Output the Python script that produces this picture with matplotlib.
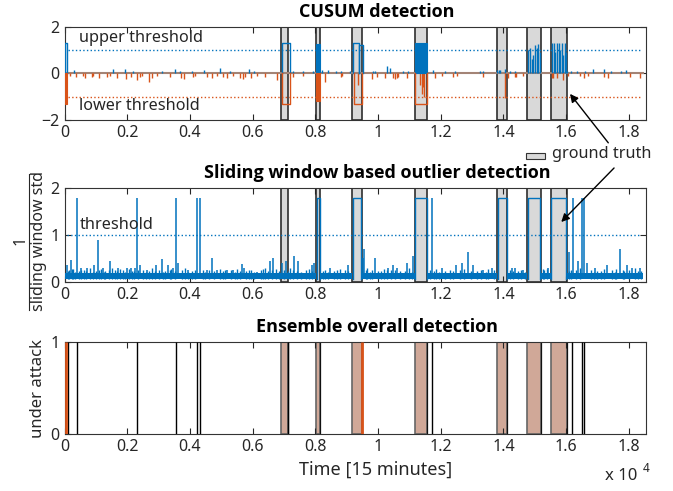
import matplotlib
matplotlib.use("Agg")
import matplotlib.pyplot as plt
from matplotlib.patches import Rectangle, FancyArrowPatch
from matplotlib.lines import Line2D
from matplotlib import font_manager

plt.rcParams['font.family'] = ['Noto Sans', 'DejaVu Sans']

# ---------------- data ----------------
x_max = 18540
x_ticks = [0, 2000, 4000, 6000, 8000, 10000, 12000, 14000, 16000, 18000]
x_ticklabels = ['0', '0.2', '0.4', '0.6', '0.8', '1', '1.2', '1.4', '1.6', '1.8']

# ground-truth attack windows (time index)
gt_start = [6890, 8010, 9180, 11170, 13800, 14760, 15510]
gt_end = [7140, 8150, 9480, 11570, 14120, 15190, 16020]

# CUSUM upper: plateau outlines (start, end, level)
up_plat_start = [0, 6930, 9210, 9400]
up_plat_end = [80, 7190, 9400, 9530]
up_plat_level = [1.3, 1.3, 1.3, 1.2]
# CUSUM upper: dense filled blocks
up_block_start = [8020, 11180]
up_block_end = [8140, 11570]
up_block_level = [1.25, 1.3]
# CUSUM upper: spikes
up_spk_x = [307, 1552, 1935, 2190, 3096, 3521, 3680, 4053, 4456, 4957, 5276, 5883, 6052,
            7298, 7617, 7936, 8205, 8414, 8660, 8810, 9107, 9831, 9905, 10278, 10383, 10808,
            10967, 11746, 12138, 12458, 13256, 13360, 13789, 13850, 13895, 14053, 14213, 14373,
            14798, 14851, 14905, 14958, 15011, 15064, 15117, 15160,
            15540, 15600, 15640, 15700, 15760, 15800, 15860, 15910, 15960, 16000,
            16043, 16150, 16341, 16607, 16873, 17214, 17427, 17746, 17906]
up_spk_h = [0.15, 0.2, 0.2, 0.1, 0.1, 0.2, 0.1, 0.1, 0.15, 0.25, 0.1, 0.2, 0.1,
            0.08, 0.1, 0.1, 0.15, 0.15, 0.1, 0.1, 0.1, 0.1, 0.1, 0.3, 0.25, 0.1,
            0.1, 0.15, 0.1, 0.1, 0.1, 0.08, 0.15, 0.15, 0.15, 0.2, 0.1, 0.1,
            1.0, 1.1, 0.6, 0.8, 1.2, 1.1, 1.25, 0.9,
            1.3, 1.3, 0.9, 1.3, 1.3, 1.0, 1.3, 0.8, 1.3, 0.9,
            0.1, 0.1, 0.1, 0.08, 0.2, 0.2, 0.1, 0.08, 0.15]

# CUSUM lower: plateau outlines
lo_plat_start = [6930, 9240, 11190]
lo_plat_end = [7190, 9480, 11560]
lo_plat_level = [-1.3, -1.3, -1.3]
lo_block_start = [0, 8020]
lo_block_end = [80, 8140]
lo_block_level = [-1.33, -1.2]
lo_spk_x = [169, 361, 595, 648, 882, 914, 1106, 1340, 1446, 1659, 1957, 2106, 2298, 2404, 2457,
            2702, 2776, 2936, 3361, 3702, 3808, 4085, 4159, 4532, 4691, 4851, 5064, 5191, 5383,
            5596, 5702, 5755, 5936, 6128, 6394, 6766, 7298, 7617, 8310, 8810, 8850, 9350,
            9799, 9958, 10224, 10490, 10540, 10596, 10648, 10916, 11330, 11400, 11440, 11480,
            11819, 12033, 12404, 12510, 13361, 14053, 14160, 14373, 14405, 14618, 15544, 15576,
            15722, 15913, 16074, 16447, 16575, 16713, 17214, 17351, 18044, 18363]
lo_spk_h = [-0.1, -0.15, -0.1, -0.2, -0.15, -0.1, -0.2, -0.15, -0.1, -0.2, -0.25, -0.15, -0.3, -0.15, -0.1,
            -0.36, -0.2, -0.1, -0.15, -0.2, -0.25, -0.15, -0.1, -0.15, -0.2, -0.1, -0.15, -0.2, -0.1,
            -0.2, -0.25, -0.15, -0.2, -0.1, -0.15, -0.3, -0.15, -0.1, -0.35, -0.15, -0.1, -0.5,
            -0.25, -0.15, -0.2, -0.2, -0.25, -0.2, -0.15, -0.2, -0.5, -0.9, -0.6, -1.0,
            -0.2, -0.1, -0.15, -0.1, -0.15, -1.05, -0.2, -0.15, -0.15, -0.1, -0.2, -0.2,
            -0.2, -0.3, -0.1, -0.1, -0.2, -0.1, -0.15, -0.2, -0.15, -0.2]

# sliding-window series
sw_seg_start = [0, 8150, 9480, 11570, 14120, 15190, 16020]
sw_seg_end = [8010, 9180, 11170, 13800, 14760, 15510, 18450]
sw_band_lo = 0.06
sw_band_hi = 0.18
sw_plat_start = [8040, 9200, 11190, 13820, 14780, 15530]
sw_plat_end = [8140, 9460, 11560, 14110, 15180, 16010]
sw_plat_level = 1.8
sw_spk_x = [64, 200, 383, 511, 702, 945, 1064, 1213, 1446, 1711, 1979, 2107, 2254, 2308, 2403,
            2617, 2914, 3096, 3307, 3467, 3552, 3627, 3946, 4233, 4310, 4532, 4692, 4851, 5171,
            5383, 5649, 5734, 6128, 6553, 6638, 6926, 7064, 7319, 7458, 7884, 7957, 8468, 9052,
            9511, 9563, 9904, 10329, 10468, 10615, 10934, 11107, 11714, 12033, 12490, 12671,
            12873, 13042, 13361, 13629, 14268, 14373, 14638, 15436, 16106, 16212, 16393, 16501,
            16585, 16660, 16926, 17300, 17724, 17937, 18096, 18363]
sw_spk_h = [0.36, 0.46, 1.8, 0.3, 0.3, 0.35, 0.9, 0.3, 0.44, 0.3, 0.3, 0.3, 0.3, 1.8, 0.35,
            0.25, 0.35, 0.49, 0.35, 0.3, 1.8, 0.41, 0.25, 1.8, 1.8, 0.25, 0.51, 0.25, 0.25,
            0.25, 0.37, 0.3, 0.2, 0.45, 0.5, 0.4, 0.45, 0.54, 0.45, 0.35, 0.4, 0.3, 0.35,
            0.5, 0.71, 0.51, 0.3, 0.35, 0.3, 0.4, 0.55, 1.8, 0.3, 0.35, 0.4,
            0.64, 0.35, 0.25, 0.3, 0.3, 0.3, 0.25, 0.3, 0.64, 1.8, 0.45, 1.8,
            1.8, 0.4, 0.3, 0.35, 0.71, 0.35, 0.3, 0.3]
sw_small_x = [100, 150, 230, 280, 340, 450, 520, 600, 680, 820, 900, 1000, 1100, 1150, 1250, 1300,
              1400, 1520, 1600, 1680, 1780, 1850, 1930, 2050, 2150, 2200, 2350, 2500, 2600, 2700,
              2800, 2870, 3000, 3150, 3200, 3350, 3400, 3520, 3750, 3850, 3920, 4050, 4150, 4400,
              4480, 4600, 4750, 4950, 5050, 5130, 5300, 5450, 5500, 5600, 5800, 5880, 5950, 6050,
              6250, 6320, 6400, 6480, 6600, 6750, 6850, 7000, 7120, 7200, 7300, 7400, 7550, 7700,
              7800, 7900, 8250, 8300, 8400, 8600, 8700, 8800, 8950, 9050, 9600, 9650, 9750, 9800,
              10000, 10100, 10200, 10300, 10400, 10550, 10700, 10850, 11000, 11080, 11650, 11800,
              11850, 11950, 12150, 12300, 12400, 12600, 12750, 12950, 13150, 13300, 13450, 13500,
              13700, 14200, 14300, 14450, 14550, 14700, 15250, 15300, 15400, 16080, 16150, 16300,
              16450, 16800, 16900, 17000, 17100, 17200, 17450, 17550, 17600, 17800, 17850, 18000,
              18200, 18300, 18400]
sw_small_h = [0.22, 0.24, 0.27, 0.28, 0.21, 0.22, 0.25, 0.26, 0.23, 0.3, 0.21, 0.23, 0.25, 0.27,
              0.21, 0.22, 0.26, 0.29, 0.25, 0.22, 0.27, 0.24, 0.21, 0.28, 0.22, 0.23, 0.25, 0.26,
              0.21, 0.22, 0.3, 0.23, 0.25, 0.21, 0.23, 0.26, 0.27, 0.22, 0.24, 0.29, 0.21, 0.22,
              0.25, 0.26, 0.21, 0.24, 0.23, 0.28, 0.22, 0.25, 0.25, 0.21, 0.27, 0.22, 0.23, 0.25,
              0.26, 0.21, 0.24, 0.27, 0.29, 0.23, 0.25, 0.27, 0.23, 0.25, 0.22, 0.3, 0.24, 0.22,
              0.21, 0.26, 0.28, 0.23, 0.22, 0.24, 0.21, 0.23, 0.26, 0.27, 0.25, 0.22, 0.24, 0.3,
              0.21, 0.26, 0.23, 0.22, 0.28, 0.25, 0.24, 0.26, 0.22, 0.23, 0.29, 0.21, 0.25, 0.23,
              0.27, 0.21, 0.22, 0.26, 0.23, 0.24, 0.28, 0.22, 0.23, 0.25, 0.21, 0.27, 0.24, 0.26,
              0.22, 0.22, 0.24, 0.21, 0.28, 0.25, 0.27, 0.22, 0.25, 0.24, 0.29, 0.26, 0.21, 0.23,
              0.22, 0.27, 0.25, 0.21, 0.28, 0.24, 0.23, 0.26, 0.3, 0.22, 0.23]

# ensemble detection lines
det_x = [115, 383, 2317, 3563, 4233, 4319, 7140, 11714, 16202, 16512, 16585]
det_orange_x = [50, 9490]

BLUE = '#0072BD'
ORANGE = '#D95319'
GT_FILL = '#d9d9d9'
GT_EDGE = '#2e2e2e'
TXT = '#262626'

# bold font for titles
bold_family = 'DejaVu Sans'
for fam in ['Open Sans', 'Noto Sans', 'Lato', 'Roboto']:
    try:
        p = font_manager.findfont(font_manager.FontProperties(family=fam, weight='bold'),
                                  fallback_to_default=False)
        if 'bold' in p.lower():
            bold_family = fam
            break
    except Exception:
        pass

W, H = 673, 491
fig = plt.figure(figsize=(W / 100, H / 100), dpi=100)


def fx(px):
    return px / W


def fy(py):
    return 1 - py / H


left, right = 64.7, 645.7
ax1 = fig.add_axes([fx(left), fy(120), (right - left) / W, 93.3 / H])
ax2 = fig.add_axes([fx(left), fy(281.7), (right - left) / W, 93.4 / H])
ax3 = fig.add_axes([fx(left), fy(434.3), (right - left) / W, 92.6 / H])

for ax in (ax1, ax2, ax3):
    ax.set_xlim(0, x_max)
    ax.set_xticks(x_ticks)
    ax.set_xticklabels(x_ticklabels)
    ax.tick_params(direction='in', length=4, top=True, right=True, labelsize=11.5,
                   colors=TXT, width=0.8)
    for s in ax.spines.values():
        s.set_color('#333333')
        s.set_linewidth(0.8)

title_x = (377 - left) / (right - left)
title_kw = dict(ha='center', va='center', fontsize=13, fontweight='bold', color='black',
                family=[bold_family, 'DejaVu Sans'])

# ---------------- CUSUM ----------------
ax1.set_ylim(-2, 2)
ax1.set_yticks([-2, 0, 2])
for s, e in zip(gt_start, gt_end):
    ax1.add_patch(Rectangle((s, -2), e - s, 4, facecolor=GT_FILL, edgecolor=GT_EDGE, lw=1.2, zorder=1))
ax1.plot([0, x_max - 80], [0, 0], color='#a38476', lw=1.5, zorder=2)
ax1.vlines(up_spk_x, 0, up_spk_h, color=BLUE, lw=1.0, zorder=3)
ax1.vlines(lo_spk_x, 0, lo_spk_h, color=ORANGE, lw=1.0, zorder=3)
for s, e, l in zip(up_plat_start, up_plat_end, up_plat_level):
    ax1.plot([s, s, e, e], [0, l, l, 0], color=BLUE, lw=1.0, zorder=3)
for s, e, l in zip(up_block_start, up_block_end, up_block_level):
    ax1.add_patch(Rectangle((s, 0), e - s, l, facecolor=BLUE, edgecolor=BLUE, lw=0.8, zorder=3))
for s, e, l in zip(lo_plat_start, lo_plat_end, lo_plat_level):
    ax1.plot([s, s, e, e], [0, l, l, 0], color=ORANGE, lw=1.0, zorder=3)
for s, e, l in zip(lo_block_start, lo_block_end, lo_block_level):
    ax1.add_patch(Rectangle((s, 0), e - s, l, facecolor=ORANGE, edgecolor=ORANGE, lw=0.8, zorder=3))
ax1.plot([100, 18400], [1, 1], color=BLUE, ls=':', lw=1.0, zorder=2)
ax1.plot([100, 18400], [-1, -1], color=ORANGE, ls=':', lw=1.0, zorder=2)
ax1.text(470, 1.53, 'upper threshold', fontsize=11.7, color=TXT, va='center')
ax1.text(470, -1.4, 'lower threshold', fontsize=11.7, color=TXT, va='center')
ax1.text(title_x, 1 + 15 / 93.3, 'CUSUM detection', transform=ax1.transAxes, **title_kw)

# ---------------- sliding window ----------------
ax2.set_ylim(0, 2)
ax2.set_yticks([0, 1, 2])
for s, e in zip(gt_start, gt_end):
    ax2.add_patch(Rectangle((s, 0), e - s, 2, facecolor=GT_FILL, edgecolor=GT_EDGE, lw=1.2, zorder=1))
for s, e in zip(sw_seg_start, sw_seg_end):
    ax2.fill_between([s, e], sw_band_lo, sw_band_hi, color=BLUE, lw=0, zorder=3)
ax2.vlines(sw_small_x, sw_band_lo, sw_small_h, color=BLUE, lw=1.0, zorder=3)
ax2.vlines(sw_spk_x, sw_band_lo, sw_spk_h, color=BLUE, lw=1.1, zorder=3)
for s, e in zip(sw_plat_start, sw_plat_end):
    ax2.plot([s, s, e, e], [sw_band_lo, sw_plat_level, sw_plat_level, sw_band_lo], color=BLUE, lw=1.0, zorder=3)
ax2.plot([60, 18400], [1, 1], color=BLUE, ls=':', lw=1.0, zorder=2)
ax2.text(470, 1.22, 'threshold', fontsize=11.7, color=TXT, va='center')
ax2.text(title_x, 1 + 15 / 93.4, 'Sliding window based outlier detection', transform=ax2.transAxes,
         **title_kw)

# ---------------- ensemble ----------------
ax3.set_ylim(0, 1)
ax3.set_yticks([0, 1])
for s, e in zip(gt_start, gt_end):
    ax3.add_patch(Rectangle((s, 0), e - s, 1, facecolor='#d0a898', edgecolor='#666666', lw=1.2, zorder=1))
    ax3.vlines([e], 0, 1, color='#111111', lw=0.9, zorder=2)
ax3.vlines(det_x, 0, 1, color='black', lw=1.0, zorder=3)
ax3.vlines(det_orange_x, 0, 1, color=ORANGE, lw=2.0, zorder=3)
ax3.text(title_x, 1 + 15 / 92.6, 'Ensemble overall detection', transform=ax3.transAxes, **title_kw)
ax3.set_ylabel('under attack', fontsize=12, color=TXT, labelpad=3)

# x label and exponent
fig.text(fx(376), fy(470), 'Time [15 minutes]', ha='center', va='center', fontsize=13, color=TXT)
fig.text(fx(605), fy(476), 'x 10', ha='left', va='center', fontsize=12, color=TXT)
fig.text(fx(643), fy(468), '4', ha='left', va='center', fontsize=8.5, color=TXT)

# fractional y label of the middle plot
fig.text(fx(21), fy(240), '1', rotation=90, ha='center', va='center', fontsize=11.5, color=TXT)
fig.add_artist(Line2D([fx(29), fx(29)], [fy(174), fy(310)], color=TXT, lw=0.8))
fig.text(fx(39), fy(241), 'sliding window std', rotation=90, ha='center', va='center',
         fontsize=11.5, color=TXT)

# legend "ground truth"
fig.add_artist(Rectangle((fx(526), fy(159.3)), (545 - 526) / W, 6.6 / H, transform=fig.transFigure,
                         facecolor=GT_FILL, edgecolor='#333333', lw=0.8))
fig.text(fx(551.7), fy(154), 'ground truth', ha='left', va='center', fontsize=11.7, color=TXT)

# arrows
for (x0, y0), (x1, y1) in [((610, 145), (568.3, 91.7)), ((616, 166), (559.3, 224))]:
    fig.add_artist(FancyArrowPatch((fx(x0), fy(y0)), (fx(x1), fy(y1)), transform=fig.transFigure,
                                   arrowstyle='-|>', mutation_scale=12, lw=1.0, color='black'))

fig.savefig('out.png', dpi=100)
